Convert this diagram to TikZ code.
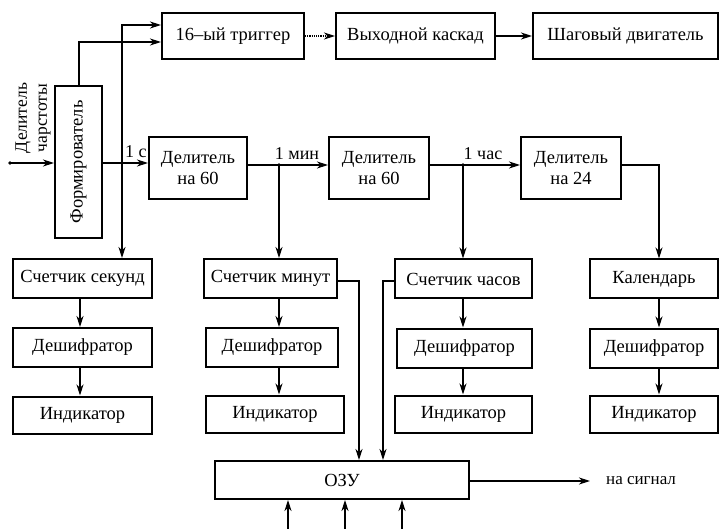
\documentclass[tikz,border=0pt]{standalone}
\usepackage{fontspec}
\setmainfont{Liberation Serif}
\usetikzlibrary{arrows.meta}
\begin{document}
\begin{tikzpicture}[x=1pt,y=-1pt,
  box/.style={draw, line width=2pt, inner sep=0pt, align=center, font=\fontsize{18.5}{21}\selectfont},
  ar/.style={line width=1.2pt, -{Stealth[length=11pt,width=7pt,inset=3.5pt]}},
  lbl/.style={font=\fontsize{18}{20}\selectfont, inner sep=0pt}]
\useasboundingbox (0,0) rectangle (720,529);
% top row
\node[box, minimum width=142pt, minimum height=46pt] (trig) at (233,36) {16–ый триггер};
\node[box, minimum width=159pt, minimum height=46pt] (vyh) at (415.5,36) {Выходной каскад};
\node[box, minimum width=185pt, minimum height=46pt] (shag) at (625.5,36) {Шаговый двигатель};
% former
\node[box, minimum width=47pt, minimum height=152pt] (form) at (78.5,162) {};
\node[lbl, rotate=90, font=\fontsize{18.5}{21}\selectfont] at (form) {Формирователь};
\node[lbl, rotate=90, align=center, font=\fontsize{17.5}{20}\selectfont] (inlbl) at (33,118) {Делитель\\чарстоты};
% dividers
\node[box, minimum width=98pt, minimum height=62pt] (del1) at (198,168) {Делитель\\на 60};
\node[box, minimum width=100pt, minimum height=62pt] (del2) at (379,168) {Делитель\\на 60};
\node[box, minimum width=100pt, minimum height=62pt] (del3) at (571,168) {Делитель\\на 24};
% counters
\node[box, minimum width=139pt, minimum height=39pt] (sek) at (82.5,278.5) {Счетчик секунд};
\node[box, minimum width=133pt, minimum height=39pt] (min) at (270.5,278.5) {Счетчик минут};
\node[box, minimum width=137pt, minimum height=39pt] (chas) at (463.5,279) {Счетчик часов};
\node[box, minimum width=128pt, minimum height=39pt] (kal) at (654,279) {Календарь};
% decoders
\node[box, minimum width=139pt, minimum height=39pt] (desh1) at (82.5,347.5) {Дешифратор};
\node[box, minimum width=132pt, minimum height=39pt] (desh2) at (272,347.5) {Дешифратор};
\node[box, minimum width=135pt, minimum height=39pt] (desh3) at (464.5,348) {Дешифратор};
\node[box, minimum width=128pt, minimum height=39pt] (desh4) at (654,348) {Дешифратор};
% indicators
\node[box, minimum width=139pt, minimum height=37pt] (ind1) at (82.5,415) {Индикатор};
\node[box, minimum width=138pt, minimum height=37pt] (ind2) at (275,414) {Индикатор};
\node[box, minimum width=137pt, minimum height=37pt] (ind3) at (463.5,414) {Индикатор};
\node[box, minimum width=128pt, minimum height=37pt] (ind4) at (654,414) {Индикатор};
% memory
\node[box, minimum width=254pt, minimum height=38pt] (ozu) at (342,480) {ОЗУ};
\node[lbl, anchor=west, font=\fontsize{17}{19}\selectfont] (sigl) at (606,481) {на сигнал};
% coordinates
\coordinate (in) at (10,163);
\coordinate (j1) at (122,163);
\coordinate (t1) at (122,25);
\coordinate (t2) at (79,42);
\coordinate (j2) at (279,165);
\coordinate (j3) at (463,165);
\coordinate (c3) at (659,165);
\coordinate (m1) at (359,281);
\coordinate (h1) at (383,281);
\coordinate (sig) at (590,481);
\coordinate (u1) at (288,529);
\coordinate (u2) at (345,529);
\coordinate (u3) at (402,529);
% connectors
\draw[ar] (in) -- (form.west |- in);
\fill (in) circle (1.8pt);
\draw[ar] (form.north -| t2) -- (t2) -- (trig.west |- t2);
\draw[ar] (j1) -- (t1) -- (trig.west |- t1);
\draw[ar] (j1) -- (sek.north -| j1);
\draw[ar] (form.east |- j1) -- (del1.west |- j1);
\fill (j1) circle (1.8pt);
\node[lbl, anchor=south west] (l1) at (125,158) {1 с};
\draw[ar, densely dotted] (trig.east) -- (vyh.west |- trig.east);
\draw[ar, line width=1.8pt] (vyh.east) -- (shag.west |- vyh.east);
\draw[ar] (del1.east |- j2) -- (del2.west |- j2);
\fill (j2) circle (1.8pt);
\node[lbl, anchor=south] (l2) at (297,160) {1 мин};
\draw[ar] (j2) -- (min.north -| j2);
\draw[ar] (del2.east |- j3) -- (del3.west |- j3);
\fill (j3) circle (1.8pt);
\node[lbl, anchor=south] (l3) at (483,160) {1 час};
\draw[ar] (j3) -- (chas.north -| j3);
\draw[ar] (del3.east |- c3) -- (c3) -- (kal.north -| c3);
% columns
\draw[ar] (sek.south -| 80,0) -- (desh1.north -| 80,0);
\draw[ar] (desh1.south -| 80,0) -- (ind1.north -| 80,0);
\draw[ar] (min.south -| j2) -- (desh2.north -| j2);
\draw[ar] (desh2.south -| j2) -- (ind2.north -| j2);
\draw[ar] (chas.south -| j3) -- (desh3.north -| j3);
\draw[ar] (desh3.south -| j3) -- (ind3.north -| j3);
\draw[ar] (kal.south -| c3) -- (desh4.north -| c3);
\draw[ar] (desh4.south -| c3) -- (ind4.north -| c3);
% memory links
\draw[ar] (min.east |- m1) -- (m1) -- (ozu.north -| m1);
\draw[ar] (chas.west |- h1) -- (h1) -- (ozu.north -| h1);
\draw[ar] (ozu.east |- sig) -- (sig);
\draw[ar] (u1) -- (ozu.south -| u1);
\draw[ar] (u2) -- (ozu.south -| u2);
\draw[ar] (u3) -- (ozu.south -| u3);
\end{tikzpicture}
\end{document}
